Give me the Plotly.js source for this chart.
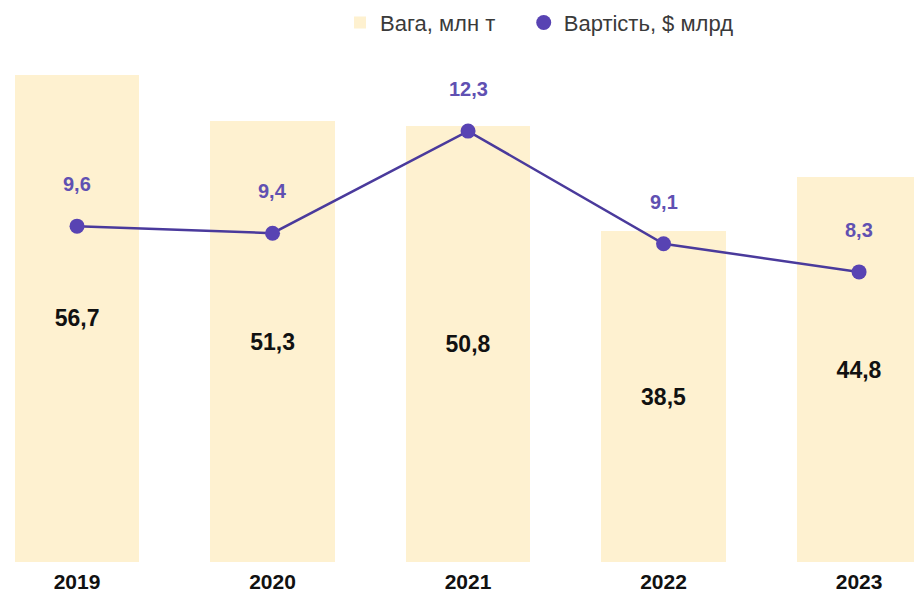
<!DOCTYPE html>
<html><head><meta charset="utf-8">
<script src="https://cdn.plot.ly/plotly-3.0.1.min.js"></script>
<style>html,body{margin:0;padding:0;background:#fff}#c{width:914px;height:596px}</style>
</head><body><div id="c"></div>
<script>
var years = ['2019','2020','2021','2022','2023'];
var weight = [56.7, 51.3, 50.8, 38.5, 44.8];
var value = [9.6, 9.4, 12.3, 9.1, 8.3];
var weightName = 'Вага, млн т';
var valueName = 'Вартість, $ млрд';

var font = 'Liberation Sans, Arial, sans-serif';
var bars = {
  type: 'bar', x: years, y: weight, name: weightName, legend: 'legend',
  marker: {color: '#FEF1D0'}, width: 0.635,
  texttemplate: '<b>%{y:.1f}</b>', textposition: 'inside', insidetextanchor: 'middle',
  textfont: {family: font, size: 23, color: '#111'}, hoverinfo: 'skip'
};
var line = {
  type: 'scatter', mode: 'lines', x: years, y: value, name: valueName, yaxis: 'y2',
  line: {color: '#4A3A9C', width: 2.5}, showlegend: false
};
var pts = {
  type: 'scatter', mode: 'markers', x: years, y: value, name: valueName, yaxis: 'y2', legend: 'legend2',
  marker: {color: '#5843B3', size: 15}
};
var ann = value.map(function(v, i){
  return {x: i, y: v, xref: 'x', yref: 'y2', text: '<b>' + v.toFixed(1).replace('.', ',') + '</b>',
    showarrow: false, yshift: 42, font: {family: font, size: 20, color: '#6050B2'}};
});
var hidden = {showgrid: false, zeroline: false, showline: false, showticklabels: false, ticks: '', fixedrange: true};
var legFont = {family: font, size: 22, color: '#3a3a3a'};
var layout = {
  width: 914, height: 596, margin: {l: 0, r: 0, t: 60, b: 34, autoexpand: false},
  paper_bgcolor: '#fff', plot_bgcolor: '#fff', separators: ', ',
  font: {family: font},
  showlegend: true,
  legend: {orientation: 'h', x: 0.372, xanchor: 'left', yref: 'container', y: 0.962, yanchor: 'middle',
    font: legFont, itemwidth: 30},
  legend2: {orientation: 'h', x: 0.573, xanchor: 'left', yref: 'container', y: 0.962, yanchor: 'middle',
    font: legFont, itemwidth: 30},
  xaxis: {type: 'category', range: [-0.394, 4.281], showgrid: false, zeroline: false, showline: false,
    ticks: '', tickfont: {family: font, size: 21, color: '#111', weight: 'bold'}, ticklabelstandoff: 5, fixedrange: true},
  yaxis: Object.assign({range: [0, 58.44]}, hidden),
  yaxis2: Object.assign({range: [0.06, 14.32], overlaying: 'y', side: 'right'}, hidden),
  annotations: ann, bargap: 0
};
Plotly.newPlot('c', [bars, line, pts], layout, {displayModeBar: false, staticPlot: true});
</script></body></html>
